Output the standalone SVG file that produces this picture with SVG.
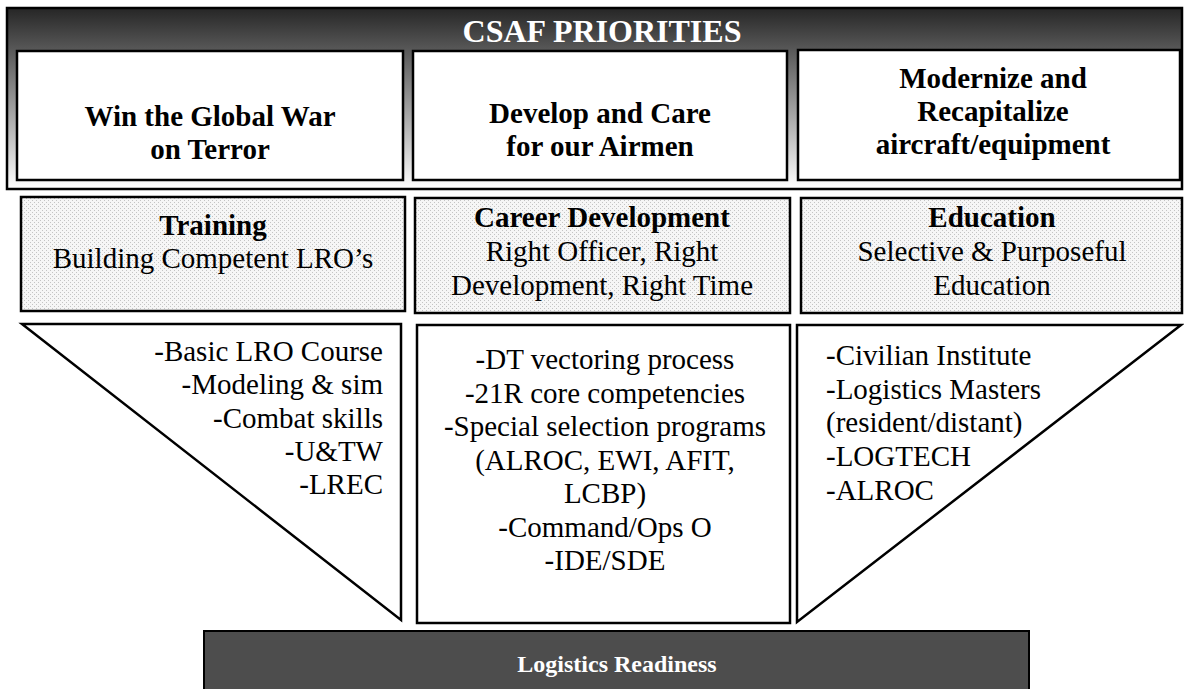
<svg xmlns="http://www.w3.org/2000/svg" width="1184" height="689" viewBox="0 0 1184 689">
<defs>
<linearGradient id="hdr" x1="0" y1="0" x2="0" y2="1">
<stop offset="0" stop-color="#262626"/>
<stop offset="1" stop-color="#ffffff"/>
</linearGradient>
<pattern id="dots" width="4" height="4" patternUnits="userSpaceOnUse">
<rect width="4" height="4" fill="#f6f6f6"/>
<rect x="0" y="0" width="1" height="1" fill="#c4c4c4"/>
<rect x="2" y="2" width="1" height="1" fill="#c4c4c4"/>
</pattern>
<style>
.t{font-family:"Times New Roman",Times,"Liberation Serif",Tinos,"Noto Serif","DejaVu Serif",FreeSerif,serif;font-size:29px;fill:#000}
.b{font-weight:bold}
.box{fill:#fff;stroke:#000;stroke-width:2.5}
.dot{fill:url(#dots);stroke:#000;stroke-width:2.5}
.mid{text-anchor:middle}
</style>
</defs>
<rect width="1184" height="689" fill="#fff"/>
<g id="header">
<rect x="7" y="8" width="1175" height="181" fill="url(#hdr)" stroke="#000" stroke-width="2.5"/>
<text class="t b mid" x="602" y="42" style="font-size:32px;fill:#fff">CSAF PRIORITIES</text>
</g>
<g id="p1">
<rect class="box" x="17" y="51" width="386" height="129"/>
<text class="t b mid" x="210" y="126">Win the Global War</text>
<text class="t b mid" x="210" y="159">on Terror</text>
</g>
<g id="p2">
<rect class="box" x="413" y="51" width="374" height="129"/>
<text class="t b mid" x="600" y="123">Develop and Care</text>
<text class="t b mid" x="600" y="156">for our Airmen</text>
</g>
<g id="p3">
<rect class="box" x="798" y="50" width="382" height="130"/>
<text class="t b mid" x="993" y="88">Modernize and</text>
<text class="t b mid" x="993" y="121">Recapitalize</text>
<text class="t b mid" x="993" y="154">aircraft/equipment</text>
</g>
<g id="training">
<rect class="dot" x="21" y="197" width="384" height="114"/>
<text class="t b mid" x="213" y="235">Training</text>
<text class="t mid" x="213" y="268">Building Competent LRO’s</text>
</g>
<g id="career">
<rect class="dot" x="415" y="198" width="375" height="115"/>
<text class="t b mid" x="602" y="227">Career Development</text>
<text class="t mid" x="602" y="261">Right Officer, Right</text>
<text class="t mid" x="602" y="295">Development, Right Time</text>
</g>
<g id="education">
<rect class="dot" x="801" y="198" width="381" height="115"/>
<text class="t b mid" x="992" y="227">Education</text>
<text class="t mid" x="992" y="261">Selective &amp; Purposeful</text>
<text class="t mid" x="992" y="295">Education</text>
</g>
<g id="training-list">
<polygon class="box" points="22,324 401,324 401,620"/>
<g class="t" text-anchor="end">
<text x="383" y="361">-Basic LRO Course</text>
<text x="383" y="394">-Modeling &amp; sim</text>
<text x="383" y="428">-Combat skills</text>
<text x="383" y="461">-U&amp;TW</text>
<text x="383" y="494">-LREC</text>
</g>
</g>
<g id="career-list">
<rect class="box" x="417" y="325" width="373" height="298"/>
<g class="t mid">
<text x="605" y="369">-DT vectoring process</text>
<text x="605" y="403">-21R core competencies</text>
<text x="605" y="436">-Special selection programs</text>
<text x="605" y="470">(ALROC, EWI, AFIT,</text>
<text x="605" y="503">LCBP)</text>
<text x="605" y="537">-Command/Ops O</text>
<text x="605" y="570">-IDE/SDE</text>
</g>
</g>
<g id="education-list">
<polygon class="box" points="797,325 1181,325 797,622"/>
<g class="t">
<text x="826" y="365">-Civilian Institute</text>
<text x="826" y="399">-Logistics Masters</text>
<text x="826" y="432">(resident/distant)</text>
<text x="826" y="466">-LOGTECH</text>
<text x="826" y="500">-ALROC</text>
</g>
</g>
<g id="readiness">
<rect x="204" y="631" width="825" height="70" fill="#4d4d4d" stroke="#000" stroke-width="2"/>
<text class="t b mid" x="617" y="672" style="font-size:24px;fill:#fff">Logistics Readiness</text>
</g>
<g id="connectors"/>
</svg>
